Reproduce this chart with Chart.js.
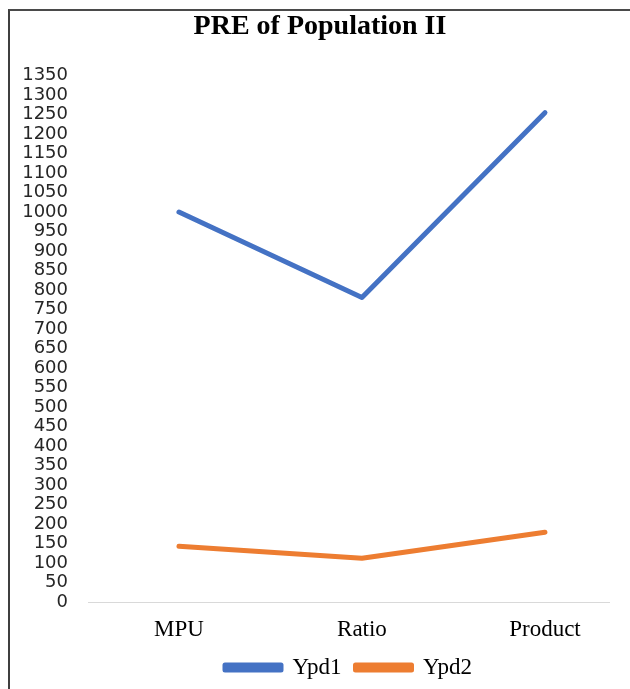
<!DOCTYPE html>
<html>
<head>
<meta charset="utf-8">
<script src="https://cdn.jsdelivr.net/npm/chart.js@4.4.0/dist/chart.umd.min.js"></script>
<style>
  html, body { margin: 0; padding: 0; background: #ffffff; }
  #wrap { position: relative; width: 630px; height: 689px; }
  #frame { position: absolute; left: 8px; top: 9px; width: 630px; height: 700px;
           border-left: 2px solid #3f3f3f; border-top: 2px solid #4a4a4a; box-sizing: border-box; }
  canvas { position: absolute; left: 0; top: 0; }
</style>
</head>
<body>
<div id="wrap">
  <div id="frame"></div>
  <canvas id="c" width="630" height="689"></canvas>
</div>
<script>
const categories = ["MPU", "Ratio", "Product"];
const ypd1 = [1000, 781, 1255];
const ypd2 = [143, 112, 179];
const seriesNames = ["Ypd1", "Ypd2"];
const yTickMin = 0, yTickMax = 1350, yTickStep = 50;

const toPoints = arr => arr.map((v, i) => ({ x: i, y: v }));
const serif = '"Liberation Serif", "Times New Roman", serif';

new Chart(document.getElementById('c'), {
  type: 'line',
  data: {
    datasets: [
      { label: seriesNames[0], data: toPoints(ypd1), borderColor: '#4472C4', backgroundColor: '#4472C4',
        borderWidth: 5, pointRadius: 0, borderCapStyle: 'round', borderJoinStyle: 'round', tension: 0 },
      { label: seriesNames[1], data: toPoints(ypd2), borderColor: '#ED7D31', backgroundColor: '#ED7D31',
        borderWidth: 5, pointRadius: 0, borderCapStyle: 'round', borderJoinStyle: 'round', tension: 0 }
    ]
  },
  options: {
    responsive: false,
    animation: false,
    devicePixelRatio: 1,
    layout: { padding: { left: 10, right: 0, top: 0, bottom: 0 } },
    plugins: {
      title: {
        display: true, text: 'PRE of Population II', color: '#000000',
        font: { family: serif, size: 28, weight: 'bold' },
        padding: { top: 9.5, bottom: 32.5 }
      },
      legend: {
        display: true, position: 'bottom', fullSize: false,
        labels: {
          color: '#000000', boxWidth: 56, boxHeight: 5, padding: 14,
          font: { family: serif, size: 23 }
        }
      },
      tooltip: { enabled: false }
    },
    scales: {
      x: {
        type: 'linear', min: -0.497, max: 2.35,
        afterBuildTicks: s => { s.ticks = categories.map((c, i) => ({ value: i })); },
        afterFit: s => { s.height = 40; },
        ticks: {
          autoSkip: false, maxRotation: 0, padding: 14, color: '#000000',
          font: { family: serif, size: 23 },
          callback: v => categories[v]
        },
        grid: { display: false, drawTicks: false },
        border: { display: true, color: '#d9d9d9', width: 1 }
      },
      y: {
        min: yTickMin, max: yTickMax,
        afterBuildTicks: s => {
          const t = [];
          for (let v = yTickMin; v <= yTickMax; v += yTickStep) t.push({ value: v });
          s.ticks = t;
        },
        afterFit: s => { s.width = 78; },
        ticks: {
          autoSkip: false, padding: 20, color: '#262626',
          font: { family: '"DejaVu Sans", sans-serif', size: 18 },
          callback: v => String(v)
        },
        grid: { display: false, drawTicks: false },
        border: { display: false }
      },
      yRightGap: {
        position: 'right', display: true,
        afterFit: s => { s.width = 21; },
        ticks: { display: false },
        grid: { display: false, drawTicks: false },
        border: { display: false }
      }
    }
  }
});
</script>
</body>
</html>
